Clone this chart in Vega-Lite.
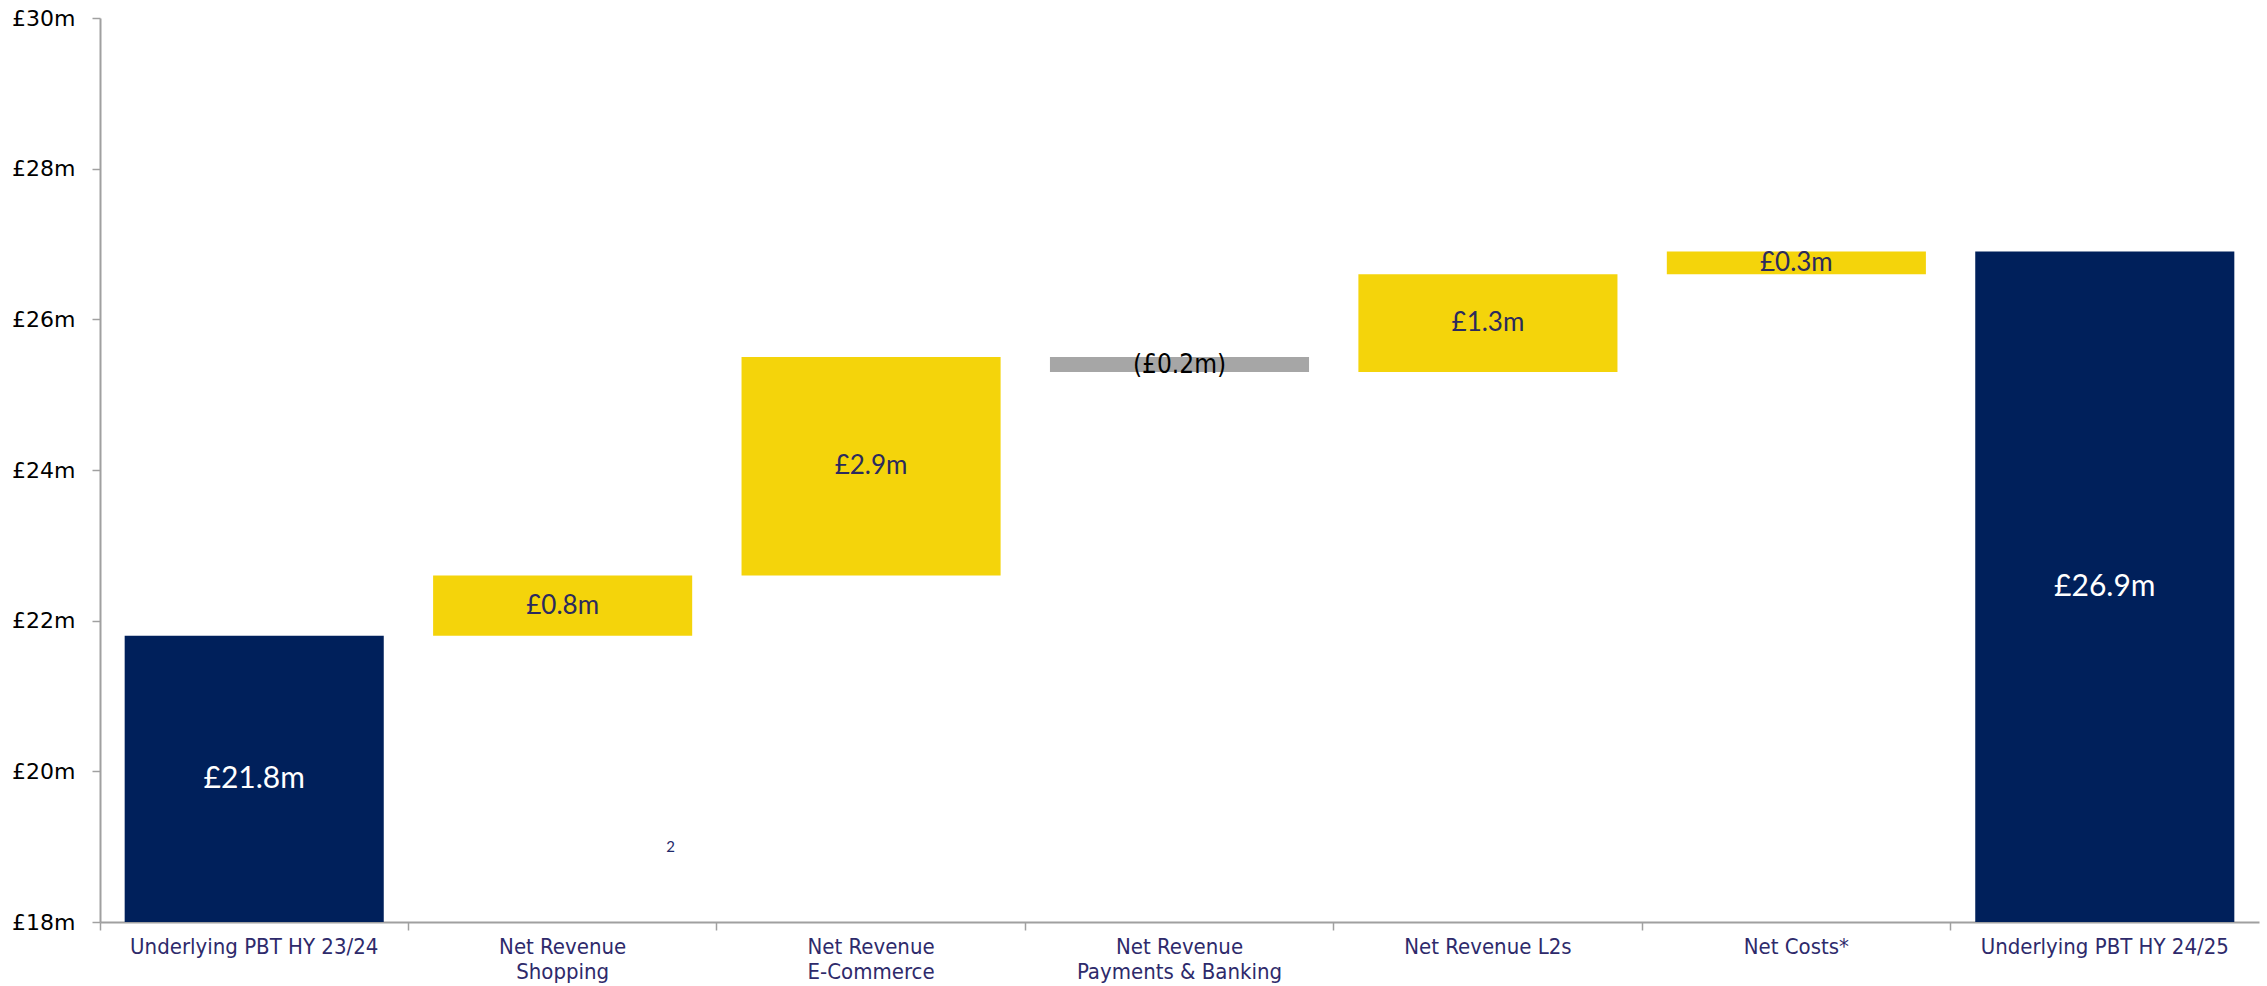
{
  "$schema": "https://vega.github.io/schema/vega-lite/v6.json",
  "width": 2159,
  "height": 904,
  "autosize": {"type": "none"},
  "padding": {"left": 100, "top": 18, "right": 8, "bottom": 64},
  "background": "white",
  "config": {"view": {"stroke": null}},
  "data": {
    "values": [
      {"cat": "Underlying PBT HY 23/24", "start": 18, "end": 21.8, "label": "£21.8m", "kind": "total", "order": 1},
      {"cat": "Net Revenue|Shopping", "start": 21.8, "end": 22.6, "label": "£0.8m", "kind": "up", "order": 2},
      {"cat": "Net Revenue|E-Commerce", "start": 22.6, "end": 25.5, "label": "£2.9m", "kind": "up", "order": 3},
      {"cat": "Net Revenue|Payments & Banking", "start": 25.5, "end": 25.3, "label": "(£0.2m)", "kind": "down", "order": 4},
      {"cat": "Net Revenue L2s", "start": 25.3, "end": 26.6, "label": "£1.3m", "kind": "up", "order": 5},
      {"cat": "Net Costs*", "start": 26.6, "end": 26.9, "label": "£0.3m", "kind": "up", "order": 6},
      {"cat": "Underlying PBT HY 24/25", "start": 18, "end": 26.9, "label": "£26.9m", "kind": "total", "order": 7}
    ]
  },
  "transform": [{"calculate": "(datum.start + datum.end) / 2", "as": "mid"}],
  "encoding": {
    "x": {
      "field": "cat",
      "type": "nominal",
      "sort": {"field": "order"},
      "scale": {"paddingInner": 0.16, "paddingOuter": 0.08},
      "axis": {
        "title": null,
        "labelAngle": 0,
        "labelExpr": "split(datum.label, '|')",
        "labelFont": "DejaVu Sans Condensed",
        "labelFontSize": 22,
        "labelColor": "#2E2A6B",
        "labelLineHeight": 25,
        "labelPadding": 6,
        "labelBaseline": "top",
        "labelLimit": 0,
        "bandPosition": -0.095,
        "tickSize": 8,
        "tickColor": "#A0A0A0",
        "domainColor": "#A0A0A0",
        "domainWidth": 2,
        "tickWidth": 1.5,
        "grid": false
      }
    }
  },
  "resolve": {"scale": {"color": "independent"}},
  "layer": [
    {
      "mark": {"type": "bar", "clip": true},
      "encoding": {
        "y": {
          "field": "start",
          "type": "quantitative",
          "scale": {"domain": [18, 30], "nice": false, "zero": false},
          "axis": {
            "title": null,
            "values": [18, 20, 22, 24, 26, 28, 30],
            "labelExpr": "'£' + datum.value + 'm'",
            "labelFont": "DejaVu Sans",
            "labelFontSize": 22,
            "labelColor": "#000000",
            "labelPadding": 17,
            "tickSize": 8,
            "tickColor": "#A0A0A0",
            "domainColor": "#A0A0A0",
            "domainWidth": 2,
            "tickWidth": 1.5,
            "grid": false
          }
        },
        "y2": {"field": "end"},
        "color": {
          "field": "kind",
          "type": "nominal",
          "scale": {"domain": ["total", "up", "down"], "range": ["#00205B", "#F4D40B", "#A6A6A6"]},
          "legend": null
        }
      }
    },
    {
      "transform": [{"filter": "datum.kind != 'down'"}],
      "mark": {"type": "text", "font": "Lato", "baseline": "middle", "align": "center"},
      "encoding": {
        "y": {"field": "mid", "type": "quantitative"},
        "text": {"field": "label"},
        "size": {
          "field": "kind",
          "type": "nominal",
          "scale": {"domain": ["total", "up"], "range": [30, 26]},
          "legend": null
        },
        "color": {
          "field": "kind",
          "type": "nominal",
          "scale": {"domain": ["total", "up"], "range": ["#FFFFFF", "#2B2A5E"]},
          "legend": null
        }
      }
    },
    {
      "transform": [{"filter": "datum.kind == 'down'"}],
      "mark": {"type": "text", "font": "DejaVu Sans Condensed", "fontSize": 26, "color": "#000000", "baseline": "middle", "align": "center"},
      "encoding": {
        "y": {"field": "mid", "type": "quantitative"},
        "text": {"field": "label"}
      }
    },
    {
      "data": {"values": [{"cat": "Net Revenue|Shopping", "note": "2", "yv": 19}]},
      "mark": {"type": "text", "font": "Lato", "fontSize": 15, "color": "#1F2A6B", "dx": 108, "baseline": "middle"},
      "encoding": {
        "y": {"field": "yv", "type": "quantitative"},
        "text": {"field": "note"}
      }
    }
  ]
}
